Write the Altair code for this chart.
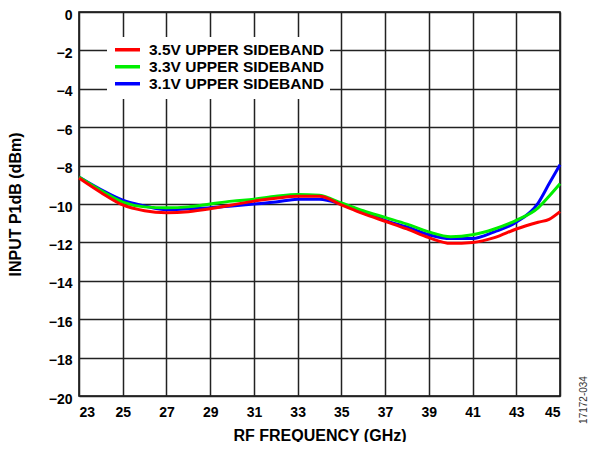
import altair as alt
import pandas as pd

freq = [23, 24, 25, 26, 27, 28, 29, 30, 31, 32, 33, 34, 35, 36, 37, 38, 39, 40, 41, 42, 43, 44, 44.5, 45]
red_35v = [-8.65, -9.4, -10.05, -10.35, -10.45, -10.4, -10.25, -10.05, -9.85, -9.7, -9.6, -9.6, -10.05,
           -10.5, -10.9, -11.3, -11.75, -12.05, -12.0, -11.75, -11.3, -10.95, -10.8, -10.4]
green_33v = [-8.6, -9.3, -9.9, -10.15, -10.2, -10.15, -10.0, -9.85, -9.75, -9.6, -9.5, -9.55, -9.95,
             -10.35, -10.7, -11.05, -11.45, -11.7, -11.6, -11.3, -10.85, -10.2, -9.6, -8.95]
blue_31v = [-8.6, -9.25, -9.8, -10.1, -10.3, -10.25, -10.2, -10.1, -10.0, -9.9, -9.75, -9.75, -10.0,
            -10.4, -10.85, -11.2, -11.6, -11.8, -11.8, -11.45, -10.95, -9.95, -8.95, -7.95]

series_names = ["3.5V UPPER SIDEBAND", "3.3V UPPER SIDEBAND", "3.1V UPPER SIDEBAND"]
series_colors = ["#ff0000", "#00ee00", "#0000ff"]
x_ticks = [23, 25, 27, 29, 31, 33, 35, 37, 39, 41, 43, 45]
y_ticks = [-20, -18, -16, -14, -12, -10, -8, -6, -4, -2, 0]
figure_id = "17172-034"

rows = []
# draw order: blue, green, red (red on top)
for name, vals in [(series_names[2], blue_31v), (series_names[1], green_33v), (series_names[0], red_35v)]:
    for f, v in zip(freq, vals):
        rows.append({"freq": f, "p1db": v, "series": name})
df = pd.DataFrame(rows)

FONT = "Liberation Sans"

lines = alt.Chart(df).mark_line(strokeWidth=3, interpolate="monotone").encode(
    x=alt.X("freq:Q", scale=alt.Scale(domain=[23, 45], nice=False),
            axis=alt.Axis(values=x_ticks, title="RF FREQUENCY (GHz)", titlePadding=8,
                          labelPadding=9, titleFontSize=16)),
    y=alt.Y("p1db:Q", scale=alt.Scale(domain=[-20, 0], nice=False),
            axis=alt.Axis(values=y_ticks, title="INPUT P1dB (dBm)", titlePadding=25,
                          labelPadding=7, labelOffset=3, titleFontSize=16)),
    color=alt.Color("series:N", scale=alt.Scale(domain=series_names, range=series_colors),
                    legend=alt.Legend(title=None, orient="none", legendX=28, legendY=25,
                                      fillColor="white", padding=6, symbolType="stroke",
                                      symbolSize=625, symbolStrokeWidth=3.5, labelOffset=7,
                                      labelFontSize=15.5, labelFontWeight="bold", labelFont=FONT,
                                      labelColor="black", rowPadding=0, clipHeight=13.5,
                                      labelLimit=400)),
    detail="series:N",
)

side = alt.Chart(pd.DataFrame({"t": [figure_id]})).mark_text(
    angle=270, fontSize=10, font=FONT, color="#333333", align="center", baseline="middle"
).encode(text="t:N", x=alt.value(505), y=alt.value(388))

chart = alt.layer(lines, side).properties(
    width=481, height=384,
    autosize=alt.AutoSizeParams(type="none"),
    padding={"left": 71, "top": 4, "right": 31, "bottom": 46},
).configure_view(stroke="black", strokeWidth=1.5).configure_axis(
    grid=True, gridColor="#222222", gridWidth=1.5, gridOpacity=1,
    ticks=False, domain=False,
    labelFont=FONT, labelFontSize=14, labelFontWeight="bold", labelColor="black",
    titleFont=FONT, titleFontWeight="bold", titleColor="black",
)

chart.save("out.html", embed_options={"renderer": "svg", "actions": False})
